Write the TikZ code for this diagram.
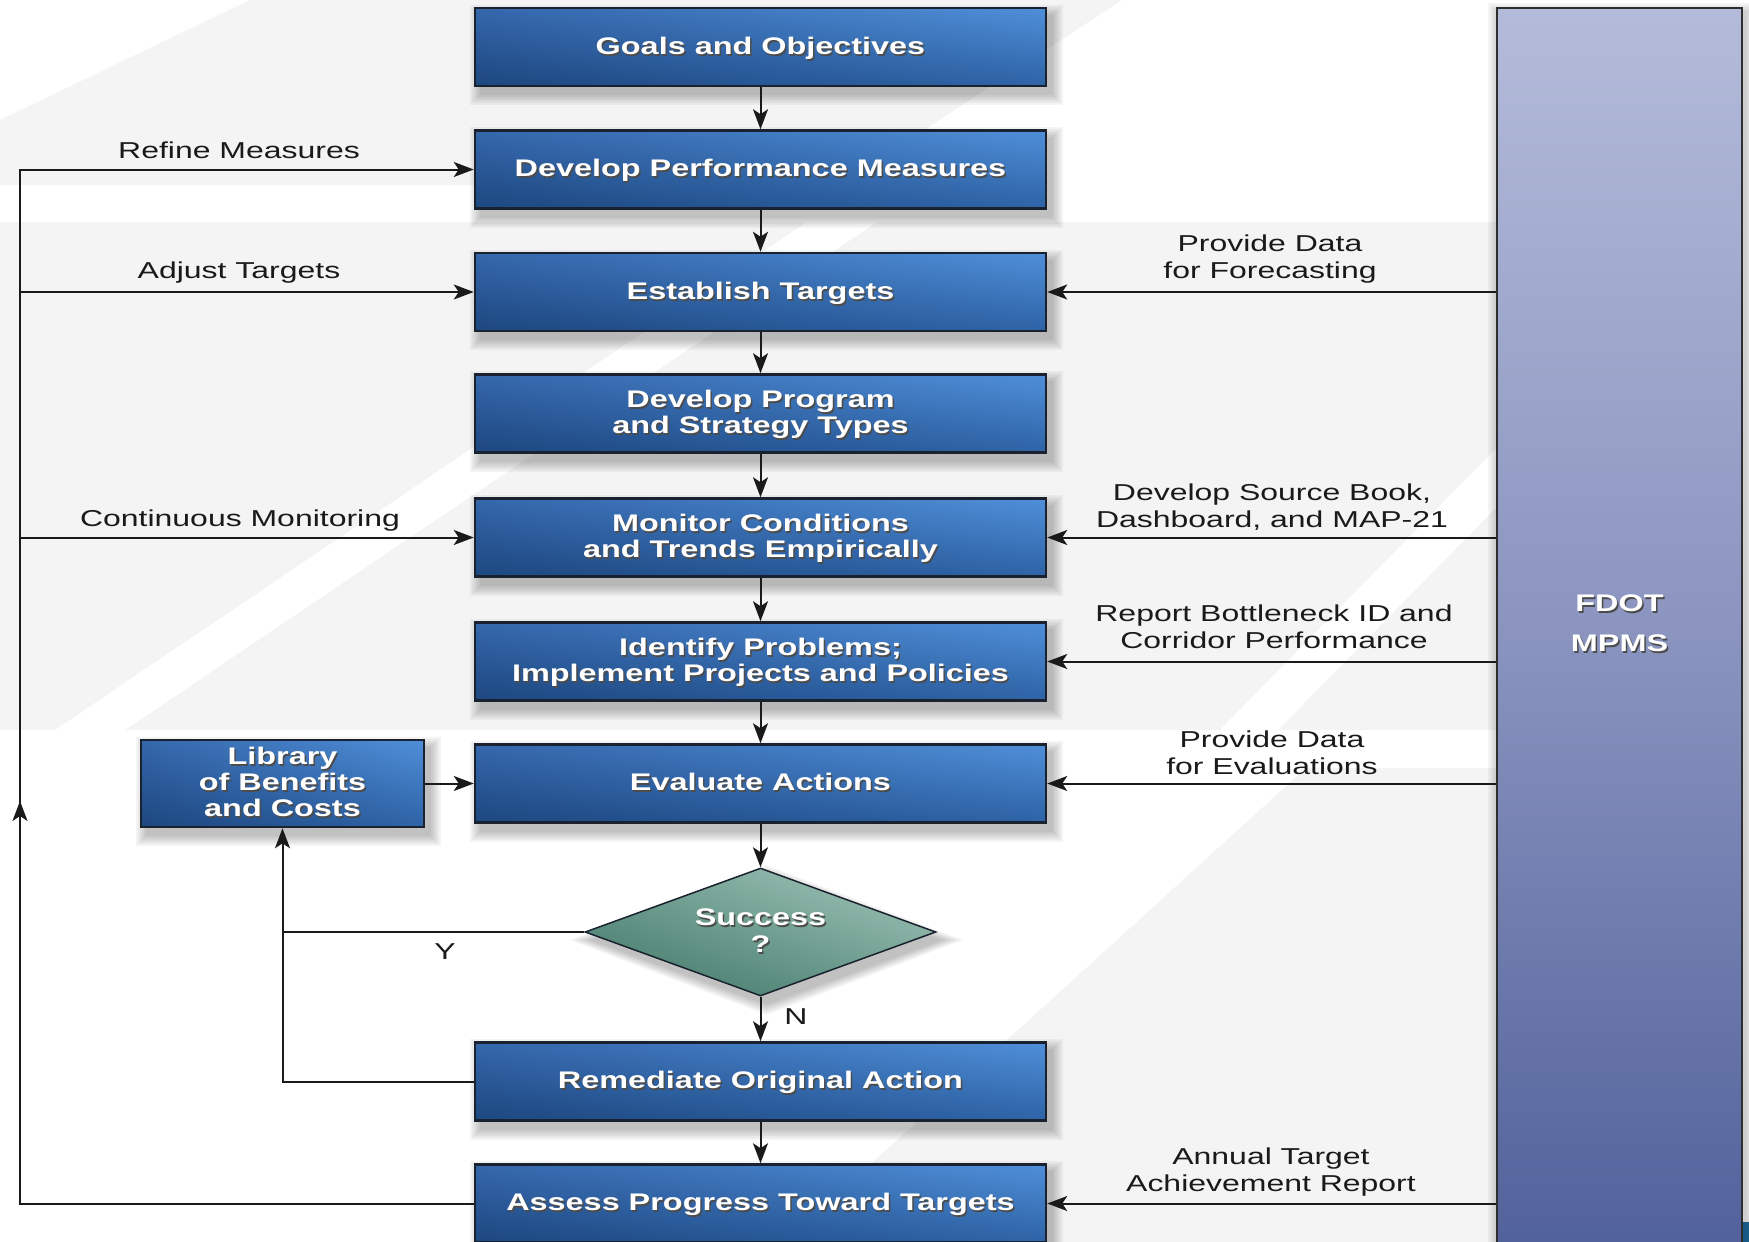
\documentclass[tikz,border=0pt]{standalone}
\usepackage{fontspec}
\setmainfont{Liberation Sans}
\newfontfamily\lblfont[FakeStretch=1.39]{Liberation Sans}
\newfontfamily\boxfont[FakeStretch=1.35]{Liberation Sans}
\usetikzlibrary{shapes.geometric,arrows.meta,calc,shadings}

\pgfdeclarelayer{backdrop}
\pgfdeclarelayer{shadowlayer}
\pgfsetlayers{backdrop,shadowlayer,main}

\definecolor{bandgray}{HTML}{F4F4F4}
\definecolor{boxUL}{HTML}{3567AC}
\definecolor{boxUR}{HTML}{4F8FD8}
\definecolor{boxLL}{HTML}{1D477F}
\definecolor{boxLR}{HTML}{2E63A6}
\definecolor{boxedge}{HTML}{1A2230}
\definecolor{decUL}{HTML}{6E9E90}
\definecolor{decUR}{HTML}{A8CBBF}
\definecolor{decLL}{HTML}{3E7565}
\definecolor{decLR}{HTML}{6A9A8C}
\definecolor{sysTop}{HTML}{B4BBDA}
\definecolor{sysMid}{HTML}{8A94BF}
\definecolor{sysBot}{HTML}{50609A}
\definecolor{sysedge}{HTML}{2E2E2E}
\definecolor{ink}{HTML}{1A1A1A}
\definecolor{cornerblue}{HTML}{1E6EA0}

% white text with a dark drop shadow, set slightly below the box centre
\newcommand\shadowtext[1]{\raisebox{-2pt}[\height][\depth]{\rlap{\raisebox{-2pt}[0pt][0pt]{\kern1.5pt\color{black!70}\begin{tabular}{@{}c@{}}#1\end{tabular}}}\begin{tabular}{@{}c@{}}#1\end{tabular}}}

\tikzset{
  stepbox/.style={rectangle, draw=boxedge, line width=2.5pt,
    upper left=boxUL, upper right=boxUR, lower left=boxLL, lower right=boxLR,
    text=white, font=\boxfont\bfseries\fontsize{24pt}{26pt}\selectfont,
    inner sep=0pt, minimum width=571pt, minimum height=78pt},
  decision/.style={diamond, draw=boxedge, line width=1.5pt,
    upper left=decUL, upper right=decUR, lower left=decLL, lower right=decLR,
    inner sep=0pt, minimum width=351pt, minimum height=128pt},
  boxtext/.style={text=white, font=\boxfont\bfseries\fontsize{24pt}{27pt}\selectfont, inner sep=0pt},
  sysbox/.style={rectangle, draw=sysedge, line width=2.5pt,
    top color=sysTop, bottom color=sysBot, middle color=sysMid,
    inner sep=0pt, minimum width=245pt, minimum height=1252pt},
  lbl/.style={font=\lblfont\fontsize{23pt}{26.5pt}\selectfont, text=ink, align=center, inner sep=0pt},
  wire/.style={draw=ink, line width=2pt},
  flow/.style={draw=ink, line width=2pt, -{Stealth[length=20pt,width=15pt,inset=5pt]}},
}

\begin{document}
\begin{tikzpicture}[x=1pt,y=-1pt]
\useasboundingbox (0,0) rectangle (1749,1242);

% background bands with diagonal white stripes
\begin{pgfonlayer}{backdrop}
  \fill[white] (0,0) rectangle (1749,1242);
  \fill[bandgray] (250,0) -- (1122,0) -- (840,185) -- (0,185) -- (0,120) -- cycle;
  \fill[bandgray] (0,222) rectangle (1497,730);
  \fill[white] (807,222) -- (877,222) -- (125,730) -- (55,730) -- cycle;
  \fill[white] (1718,222) -- (1776,222) -- (1278,730) -- (1220,730) -- cycle;
  \fill[bandgray] (1306,768) -- (1497,768) -- (1497,1242) -- (785,1242) -- cycle;
  \fill[cornerblue] (1743,1222) rectangle (1749,1242);
\end{pgfonlayer}

% system column
\node[sysbox] (fdot) at (1619.5,634) {};
\node[boxtext] (fdottext) at (1619.5,624) {\shadowtext{FDOT\\[13pt]MPMS}};

% process steps
\node[stepbox] (goals)     at (760.5,47)    {\shadowtext{Goals and Objectives}};
\node[stepbox] (perf)      at (760.5,169.5) {\shadowtext{Develop Performance Measures}};
\node[stepbox] (targets)   at (760.5,292)   {\shadowtext{Establish Targets}};
\node[stepbox] (program)   at (760.5,413.5) {\shadowtext{Develop Program\\and Strategy Types}};
\node[stepbox] (monitor)   at (760.5,537.5) {\shadowtext{Monitor Conditions\\and Trends Empirically}};
\node[stepbox] (identify)  at (760.5,661.5) {\shadowtext{Identify Problems;\\Implement Projects and Policies}};
\node[stepbox] (evaluate)  at (760.5,783.5) {\shadowtext{Evaluate Actions}};
\node[decision] (success)  at (760.5,932)   {};
\node[boxtext] (successtext) at (760.5,932) {\shadowtext{Success\\?}};
\node[stepbox] (remediate) at (760.5,1081.5){\shadowtext{Remediate Original Action}};
\node[stepbox] (assess)    at (760.5,1203.5){\shadowtext{Assess Progress Toward Targets}};
\node[stepbox, minimum width=283pt, minimum height=87pt] (lib) at (282.5,783.5)
  {\shadowtext{Library\\of Benefits\\and Costs}};

% soft drop shadows
\begin{pgfonlayer}{shadowlayer}
  \foreach \n in {goals,perf,targets,program,monitor,identify,evaluate,remediate,assess,lib}{
    \foreach \r in {0,2,...,10}{
      \fill[black,opacity=0.045] ([shift={(6-\r,8-\r)}]\n.north west) rectangle ([shift={(6+\r,8+\r)}]\n.south east);
    }
  }
  \foreach \r in {0,2,...,10}{
    \fill[black,opacity=0.045] ([shift={(6,8-\r)}]success.north) -- ([shift={(6+2*\r,8)}]success.east)
      -- ([shift={(6,8+\r)}]success.south) -- ([shift={(6-2*\r,8)}]success.west) -- cycle;
  }
  \foreach \r in {0,2,...,8}{
    \fill[black,opacity=0.04] ([shift={(-\r,4-\r)}]fdot.north west) rectangle ([shift={(4+\r,4+\r)}]fdot.south east);
  }
\end{pgfonlayer}

% main flow
\draw[flow] (goals) -- (perf);
\draw[flow] (perf) -- (targets);
\draw[flow] (targets) -- (program);
\draw[flow] (program) -- (monitor);
\draw[flow] (monitor) -- (identify);
\draw[flow] (identify) -- (evaluate);
\draw[flow] (evaluate) -- (success);
\draw[flow] (success) -- (remediate);
\draw[flow] (remediate) -- (assess);
\node[lbl] (nlabel) at (796,1017) {N};

% library loop
\draw[flow] (lib) -- (evaluate);
\draw[flow] (remediate.west) -- (remediate.west -| lib.south) -- (lib.south);
\draw[wire] (success.west) -- (success.west -| lib.south);
\node[lbl] (ylabel) at (445,952) {Y};

% outer feedback loop
\coordinate (loopx) at (20,0);
\coordinate (loopmid) at (20,801);
\draw[flow] (assess.west) -- (assess.west -| loopx) -- (perf.west -| loopx) -- (perf.west);
\draw[flow] (targets.west -| loopx) -- (targets.west);
\draw[flow] (monitor.west -| loopx) -- (monitor.west);
\draw[flow] (assess.west -| loopx) -- (loopmid);
\node[lbl] (refine)  at (239,150) {Refine Measures};
\node[lbl] (adjust)  at (239,273) {Adjust Targets};
\node[lbl] (contmon) at (240,521) {Continuous Monitoring};

% inputs from the system column
\draw[flow] (targets.east -| fdot.west) -- (targets.east);
\draw[flow] (monitor.east -| fdot.west) -- (monitor.east);
\draw[flow] (identify.east -| fdot.west) -- (identify.east);
\draw[flow] (evaluate.east -| fdot.west) -- (evaluate.east);
\draw[flow] (assess.east -| fdot.west) -- (assess.east);
\node[lbl] (forecast) at (1270,259) {Provide Data\\for Forecasting};
\node[lbl] (source)   at (1272,507) {Develop Source Book,\\Dashboard, and MAP-21};
\node[lbl] (bottle)   at (1274,627) {Report Bottleneck ID and\\Corridor Performance};
\node[lbl] (evaldata) at (1272,753) {Provide Data\\for Evaluations};
\node[lbl] (annual)   at (1271,1172) {Annual Target\\Achievement Report};
\end{tikzpicture}
\end{document}
